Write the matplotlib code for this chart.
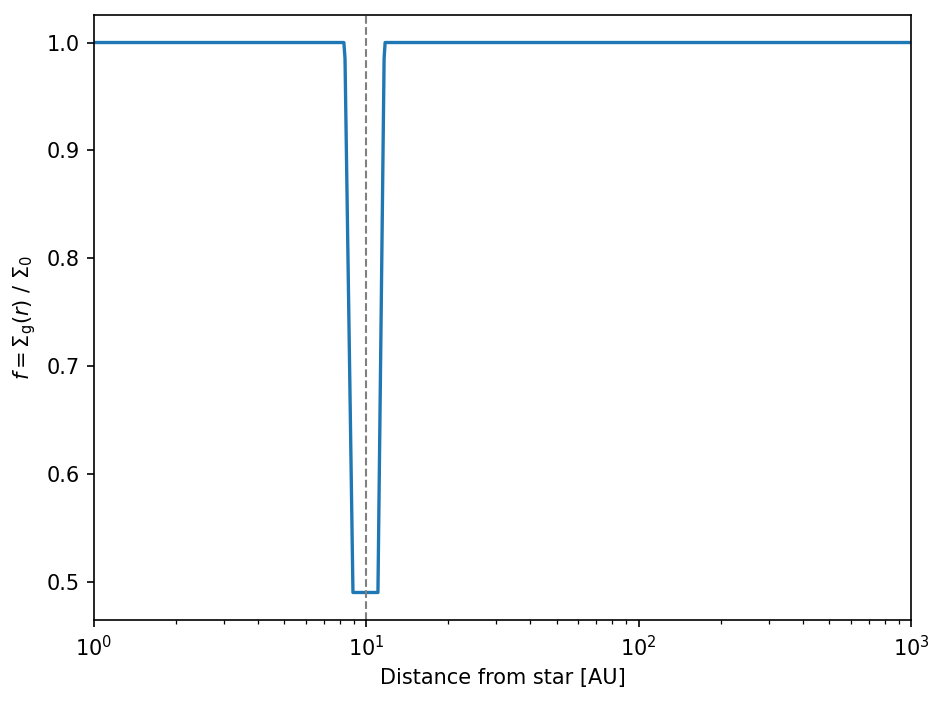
import matplotlib
matplotlib.use("Agg")
import matplotlib.pyplot as plt

# gas surface density profile with a gap carved around the planet at 10 AU
radius_au = [1.0, 8.27, 8.35, 8.93, 11.03, 11.62, 11.72, 1000.0]
sigma_ratio = [1.0, 1.0, 0.985, 0.49, 0.49, 0.985, 1.0, 1.0]
planet_au = 10.0

fig, ax = plt.subplots(figsize=(6.3, 4.7), dpi=150)
ax.plot(radius_au, sigma_ratio, color="tab:blue", linewidth=1.6)
ax.axvline(planet_au, color="gray", linestyle="--", linewidth=1)
ax.set_xscale("log")
ax.set_xlim(1, 1000)
ax.set_xlabel("Distance from star [AU]")
ax.set_ylabel(r"$f = \Sigma_{\rm g}(r)$ / $\Sigma_0$")
fig.subplots_adjust(left=0.0995, right=0.964, top=0.9787, bottom=0.1206)
fig.savefig("out.png", dpi=150)
